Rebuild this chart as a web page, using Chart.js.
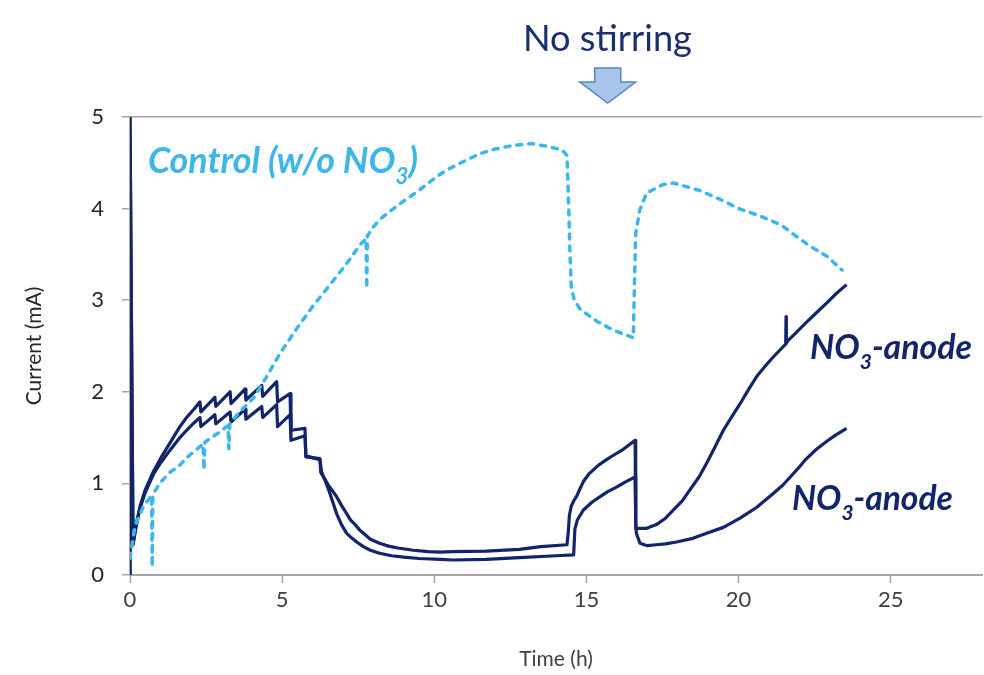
<!DOCTYPE html>
<html>
<head>
<meta charset="utf-8">
<script src="https://cdn.jsdelivr.net/npm/chart.js@4.4.1/dist/chart.umd.min.js"></script>
<style>
html,body{margin:0;padding:0;background:#ffffff;}
#wrap{width:984px;height:675px;position:relative;}
</style>
</head>
<body>
<div id="wrap"><canvas id="c" width="984" height="675"></canvas></div>
<script>
// ---------- tick labels ----------
const xTicks = [0, 5, 10, 15, 20, 25];
const yTicks = [0, 1, 2, 3, 4, 5];

// ---------- NO3-anode (upper) ----------
const tUpper = [0, 0, 0.1, 0.2, 0.33, 0.5, 0.77, 1.0, 1.31, 1.64, 1.86, 2.1, 2.30, 2.33, 2.79, 2.82, 3.29, 3.32, 3.78, 3.81, 4.33, 4.36, 4.82, 4.85, 5.26, 5.29, 5.75, 5.78, 6.24, 6.27, 6.4, 6.5, 6.65, 6.79, 6.95, 7.12, 7.25, 7.4, 7.55, 7.67, 7.9, 8.2, 8.5, 8.8, 9.31, 9.8, 10.19, 10.6, 11.7, 12.8, 13.5, 14.36, 14.4, 14.44, 14.5, 14.6, 14.68, 14.8, 14.9, 15.1, 15.4, 15.66, 15.9, 16.2, 16.6, 16.62, 16.98, 17.3, 17.6, 17.86, 18.15, 18.4, 18.7, 18.95, 19.2, 19.5, 19.8, 20.05, 20.3, 20.6, 20.9, 21.14, 21.4, 21.55, 21.56, 21.57, 21.6, 21.9, 22.2, 22.55, 22.9, 23.2, 23.55];
const iUpper = [0, 5, 0.35, 0.55, 0.75, 0.93, 1.13, 1.27, 1.44, 1.62, 1.72, 1.81, 1.89, 1.78, 1.94, 1.84, 2.0, 1.87, 2.03, 1.91, 2.07, 1.95, 2.11, 1.89, 1.98, 1.58, 1.6, 1.29, 1.27, 1.12, 1.05, 0.99, 0.92, 0.855, 0.76, 0.67, 0.6, 0.55, 0.49, 0.455, 0.39, 0.346, 0.315, 0.295, 0.27, 0.255, 0.25, 0.255, 0.26, 0.28, 0.31, 0.33, 0.45, 0.65, 0.75, 0.82, 0.86, 0.95, 1.02, 1.11, 1.2, 1.26, 1.31, 1.37, 1.47, 0.51, 0.51, 0.55, 0.62, 0.71, 0.81, 0.93, 1.07, 1.22, 1.38, 1.58, 1.74, 1.87, 2.01, 2.17, 2.29, 2.38, 2.47, 2.52, 2.82, 2.53, 2.55, 2.65, 2.75, 2.86, 2.97, 3.07, 3.17];

// ---------- NO3-anode (lower) ----------
const tLower = [0, 0, 0.1, 0.2, 0.33, 0.5, 0.77, 1.0, 1.31, 1.64, 1.86, 2.1, 2.30, 2.33, 2.79, 2.82, 3.29, 3.32, 3.78, 3.81, 4.33, 4.36, 4.82, 4.85, 5.26, 5.29, 5.75, 5.78, 6.24, 6.3, 6.45, 6.57, 6.68, 6.79, 6.95, 7.12, 7.3, 7.45, 7.67, 7.9, 8.2, 8.6, 9.0, 9.5, 10.2, 10.6, 11.7, 12.8, 14.0, 14.58, 14.62, 14.7, 14.9, 15.2, 15.45, 15.7, 15.99, 16.3, 16.6, 16.62, 16.64, 16.76, 17.0, 17.3, 17.6, 17.96, 18.5, 18.95, 19.5, 20.05, 20.6, 21.14, 21.45, 21.7, 22.0, 22.2, 22.55, 22.9, 23.2, 23.55];
const iLower = [0, 5, 0.33, 0.53, 0.73, 0.9, 1.1, 1.22, 1.36, 1.5, 1.58, 1.66, 1.72, 1.62, 1.75, 1.65, 1.78, 1.67, 1.81, 1.7, 1.84, 1.72, 1.86, 1.62, 1.75, 1.47, 1.52, 1.3, 1.26, 1.12, 1.0, 0.89, 0.78, 0.67, 0.55, 0.455, 0.4, 0.36, 0.31, 0.27, 0.237, 0.21, 0.195, 0.18, 0.17, 0.164, 0.17, 0.19, 0.21, 0.22, 0.5, 0.6, 0.71, 0.8, 0.855, 0.91, 0.96, 1.02, 1.07, 0.6, 0.455, 0.346, 0.32, 0.33, 0.34, 0.36, 0.4, 0.455, 0.52, 0.62, 0.74, 0.89, 0.98, 1.07, 1.18, 1.26, 1.37, 1.46, 1.53, 1.6];

// ---------- Control (w/o NO3) ----------
const tControl = [0, 0.16, 0.44, 0.71, 0.73, 0.75, 1.0, 1.31, 1.64, 1.86, 2.4, 2.43, 2.46, 2.9, 3.22, 3.25, 3.28, 3.6, 4.05, 4.5, 4.93, 5.5, 6.0, 6.6, 7.12, 7.6, 7.76, 7.78, 7.8, 8.0, 8.2, 8.5, 8.9, 9.5, 10.0, 10.4, 11.0, 11.5, 12.0, 12.6, 13.2, 13.7, 14.2, 14.36, 14.42, 14.46, 14.5, 14.6, 14.8, 15.34, 15.9, 16.54, 16.58, 16.62, 16.75, 16.98, 17.5, 17.85, 18.7, 19.4, 20.0, 20.7, 21.4, 22.3, 22.9, 23.4];
const iControl = [0.18, 0.53, 0.75, 0.87, 0.09, 0.88, 1.01, 1.12, 1.2, 1.28, 1.43, 1.15, 1.45, 1.55, 1.63, 1.38, 1.65, 1.78, 1.93, 2.17, 2.42, 2.7, 2.93, 3.18, 3.4, 3.62, 3.67, 3.13, 3.7, 3.8, 3.88, 3.96, 4.06, 4.2, 4.33, 4.42, 4.52, 4.6, 4.65, 4.69, 4.71, 4.68, 4.64, 4.58, 4.0, 3.5, 3.15, 3.0, 2.9, 2.77, 2.67, 2.59, 3.2, 3.73, 3.98, 4.17, 4.26, 4.28, 4.2, 4.1, 4.0, 3.92, 3.82, 3.6, 3.48, 3.33];

const NAVY = '#12246a';
const LIGHT = '#3db6ea';
const AXIS_GRAY = '#a6a6a6';
const FAM = 'Lato, "Open Sans", sans-serif';

const pts = (t, v) => t.map((x, k) => ({ x: x, y: v[k] }));

// ---------- annotation plugin ----------
function richWidth(ctx, parts, size, style, family) {
  let w = 0;
  for (const p of parts) {
    const s = p.sub ? size * 0.62 : size;
    ctx.font = style + ' ' + s + 'px ' + family;
    w += ctx.measureText(p.t).width;
  }
  return w;
}
function drawRich(ctx, parts, x, yBase, targetW, style, family, color) {
  const base = 100;
  const size = base * targetW / richWidth(ctx, parts, base, style, family);
  let cx = x;
  ctx.fillStyle = color;
  ctx.textBaseline = 'alphabetic';
  ctx.textAlign = 'left';
  for (const p of parts) {
    const s = p.sub ? size * 0.62 : size;
    ctx.font = style + ' ' + s + 'px ' + family;
    ctx.fillText(p.t, cx, yBase + (p.sub ? size * 0.3 : 0));
    cx += ctx.measureText(p.t).width;
  }
}

const annotations = {
  id: 'annotations',
  afterDraw(chart) {
    const ctx = chart.ctx;
    ctx.save();
    // "No stirring"
    drawRich(ctx, [{ t: 'No stirring' }], 523, 51, 169, 'normal', FAM, '#1b2f6e');
    // arrow
    const cx = chart.scales.x.getPixelForValue(15.7);
    ctx.beginPath();
    ctx.moveTo(cx - 13, 68);
    ctx.lineTo(cx + 13, 68);
    ctx.lineTo(cx + 13, 82);
    ctx.lineTo(cx + 28, 82);
    ctx.lineTo(cx, 103);
    ctx.lineTo(cx - 28, 82);
    ctx.lineTo(cx - 13, 82);
    ctx.closePath();
    ctx.fillStyle = '#a7c7ea';
    ctx.fill();
    ctx.strokeStyle = '#5a84bd';
    ctx.lineWidth = 1.5;
    ctx.stroke();
    // series labels
    drawRich(ctx, [{ t: 'Control (w/o NO' }, { t: '3', sub: true }, { t: ')' }], 148, 173, 270, 'italic bold', FAM, LIGHT);
    drawRich(ctx, [{ t: 'NO' }, { t: '3', sub: true }, { t: '-anode' }], 810, 359, 162, 'italic bold', FAM, NAVY);
    drawRich(ctx, [{ t: 'NO' }, { t: '3', sub: true }, { t: '-anode' }], 792, 510, 161, 'italic bold', FAM, NAVY);
    ctx.restore();
  }
};

new Chart(document.getElementById('c'), {
  type: 'scatter',
  data: {
    datasets: [
      { label: 'Control (w/o NO3)', data: pts(tControl, iControl), showLine: true, borderColor: LIGHT, borderWidth: 3.5, borderDash: [5, 7], borderCapStyle: 'round', borderJoinStyle: 'round', pointRadius: 0, tension: 0, fill: false },
      { label: 'NO3-anode (upper)', data: pts(tUpper, iUpper), showLine: true, borderColor: NAVY, borderWidth: 3.2, borderJoinStyle: 'round', pointRadius: 0, tension: 0, fill: false },
      { label: 'NO3-anode (lower)', data: pts(tLower, iLower), showLine: true, borderColor: NAVY, borderWidth: 3.2, borderJoinStyle: 'round', pointRadius: 0, tension: 0, fill: false }
    ]
  },
  options: {
    responsive: false,
    animation: false,
    devicePixelRatio: 1,
    layout: { padding: { top: 117, right: 2, left: 0, bottom: 0 } },
    plugins: { legend: { display: false }, tooltip: { enabled: false } },
    scales: {
      x: {
        type: 'linear', min: 0, max: 28,
        afterBuildTicks: s => { s.ticks = xTicks.map(v => ({ value: v })); },
        afterFit: s => { s.height = 100; },
        grid: { drawOnChartArea: false, drawTicks: true, tickLength: 8, tickColor: AXIS_GRAY, tickWidth: 1.5 },
        border: { display: true, color: AXIS_GRAY, width: 2 },
        ticks: { padding: 4, color: '#404040', font: { family: FAM, size: 22 } },
        title: { display: true, text: 'Time (h)', color: '#404040', font: { family: FAM, size: 21 }, padding: { top: 0, bottom: 3 } }
      },
      y: {
        type: 'linear', min: 0, max: 5,
        afterBuildTicks: s => { s.ticks = yTicks.map(v => ({ value: v })); },
        afterFit: s => { s.width = 130; },
        grid: {
          drawOnChartArea: true, drawTicks: true, tickLength: 8, tickColor: AXIS_GRAY, tickWidth: 1.5, lineWidth: 1.5,
          color: c => (c.tick && c.tick.value === 5 ? AXIS_GRAY : 'rgba(0,0,0,0)')
        },
        border: { display: true, color: AXIS_GRAY, width: 2 },
        ticks: { padding: 18, color: '#262626', font: { family: FAM, size: 22 } },
        title: { display: true, text: 'Current (mA)', color: '#262626', font: { family: FAM, size: 21 }, padding: { top: 22, bottom: 0 } }
      }
    }
  },
  plugins: [annotations]
});
</script>
</body>
</html>
